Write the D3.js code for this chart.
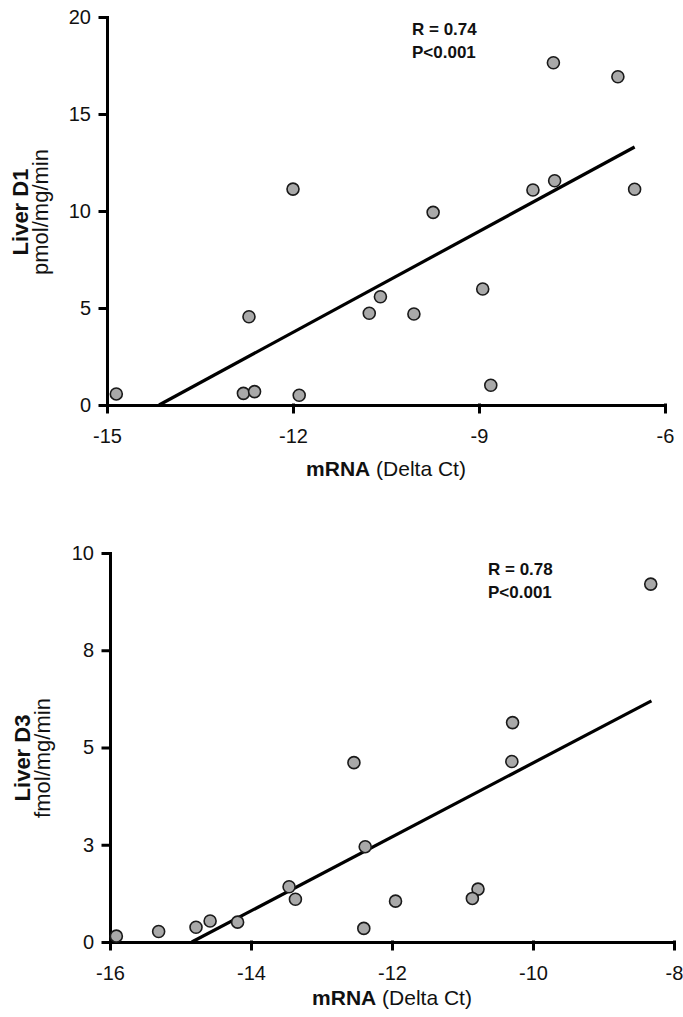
<!DOCTYPE html>
<html>
<head>
<meta charset="utf-8">
<script src="https://cdn.jsdelivr.net/npm/d3@7"></script>
<style>
  body { margin: 0; background: #fff; }
  svg { display: block; font-family: "Liberation Sans", Arial, sans-serif; }
</style>
</head>
<body>
<svg width="683" height="1017"></svg>
<script>
// Liver D1 activity vs mRNA
var d1X = [-12.0, -7.8, -6.76, -8.13, -7.78, -6.49, -9.74, -10.59, -8.94, -10.77, -10.05, -12.71, -14.85, -12.8, -12.62, -11.9, -8.81];
var d1Y = [11.13, 17.64, 16.92, 11.08, 11.56, 11.12, 9.93, 5.58, 5.98, 4.73, 4.69, 4.55, 0.57, 0.6, 0.69, 0.5, 1.02];
var d1FitX = [-14.16, -6.49];
var d1FitY = [0, 13.3];
var d1XTicks = [-15, -12, -9, -6];
var d1YTicks = [0, 5, 10, 15, 20];
var d1YLabels = ['0', '5', '10', '15', '20'];

// Liver D3 activity vs mRNA
var d3X = [-8.33, -10.29, -10.3, -12.54, -12.38, -13.46, -13.37, -11.95, -10.78, -10.86, -12.4, -14.19, -14.58, -14.78, -15.31, -15.91];
var d3Y = [9.2, 5.64, 4.64, 4.61, 2.45, 1.42, 1.1, 1.05, 1.36, 1.12, 0.35, 0.51, 0.54, 0.38, 0.27, 0.15];
var d3FitX = [-14.84, -8.32];
var d3FitY = [0, 6.2];
var d3XTicks = [-16, -14, -12, -10, -8];
var d3YTicks = [0, 2.5, 5, 7.5, 10];
var d3YLabels = ['0', '3', '5', '8', '10'];

var svg = d3.select('svg');

function styleAxis(sel) {
  sel.selectAll('path, line')
    .attr('stroke', '#000')
    .attr('stroke-width', 3)
    .attr('stroke-linecap', 'square');
  sel.selectAll('text')
    .attr('fill', '#111')
    .style('font-size', '20px');
}

function panel(p) {
  var xScale = d3.scaleLinear().domain(p.xDomain).range([p.left, p.right]);
  var yScale = d3.scaleLinear().domain(p.yDomain).range([p.bottom, p.top]);
  var g = svg.append('g');

  g.append('g')
    .attr('transform', 'translate(0,' + p.bottom + ')')
    .call(d3.axisBottom(xScale).tickValues(p.xTicks).tickSize(7).tickSizeOuter(0).tickPadding(17)
      .tickFormat(function(d) { return String(d); }))
    .call(styleAxis);

  g.append('g')
    .attr('transform', 'translate(' + p.left + ',0)')
    .call(d3.axisLeft(yScale).tickValues(p.yTicks).tickSize(7).tickSizeOuter(0).tickPadding(9)
      .tickFormat(function(d, i) { return p.yLabels[i]; }))
    .call(styleAxis);

  // regression line
  g.append('line')
    .attr('x1', xScale(p.fitX[0])).attr('y1', yScale(p.fitY[0]))
    .attr('x2', xScale(p.fitX[1])).attr('y2', yScale(p.fitY[1]))
    .attr('stroke', '#000')
    .attr('stroke-width', 3.2);

  g.selectAll('circle')
    .data(p.xs.map(function(x, i) { return [x, p.ys[i]]; }))
    .enter()
    .append('circle')
      .attr('cx', function(d) { return xScale(d[0]); })
      .attr('cy', function(d) { return yScale(d[1]); })
      .attr('r', 6)
      .attr('fill', '#a9a9a9')
      .attr('stroke', '#1a1a1a')
      .attr('stroke-width', 1.6);

  // y label
  var yl = g.append('text')
    .attr('transform', 'translate(' + p.yLabelX + ',' + p.yLabelY + ') rotate(-90)')
    .attr('text-anchor', 'middle')
    .style('font-size', '22px')
    .attr('fill', '#111');
  yl.append('tspan').attr('x', 0).attr('dy', 0).style('font-weight', 'bold').text(p.yTitle);
  yl.append('tspan').attr('x', 0).attr('dy', 20).text(p.yUnit);

  // x label
  var xl = g.append('text')
    .attr('x', (p.left + p.right) / 2)
    .attr('y', p.xLabelY)
    .attr('text-anchor', 'middle')
    .style('font-size', '21px')
    .attr('fill', '#111');
  xl.append('tspan').style('font-weight', 'bold').text('mRNA');
  xl.append('tspan').text(' (Delta Ct)');

  // stats
  var st = g.append('text')
    .attr('x', p.statX)
    .attr('y', p.statY)
    .style('font-size', '17px')
    .style('font-weight', 'bold')
    .attr('fill', '#111');
  st.append('tspan').attr('x', p.statX).text(p.stat1);
  st.append('tspan').attr('x', p.statX).attr('dy', 23).text('P<0.001');
}

panel({
  xs: d1X, ys: d1Y, fitX: d1FitX, fitY: d1FitY,
  xDomain: [-15, -6], yDomain: [0, 20],
  xTicks: d1XTicks, yTicks: d1YTicks, yLabels: d1YLabels,
  left: 107, right: 665, top: 17, bottom: 405,
  yTitle: 'Liver D1', yUnit: 'pmol/mg/min', yLabelX: 28, yLabelY: 212,
  xLabelY: 476, statX: 412, statY: 35, stat1: 'R = 0.74'
});

panel({
  xs: d3X, ys: d3Y, fitX: d3FitX, fitY: d3FitY,
  xDomain: [-16, -8], yDomain: [0, 10],
  xTicks: d3XTicks, yTicks: d3YTicks, yLabels: d3YLabels,
  left: 110, right: 674, top: 553, bottom: 942,
  yTitle: 'Liver D3', yUnit: 'fmol/mg/min', yLabelX: 30, yLabelY: 758,
  xLabelY: 1005, statX: 488, statY: 575, stat1: 'R = 0.78'
});
</script>
</body>
</html>
